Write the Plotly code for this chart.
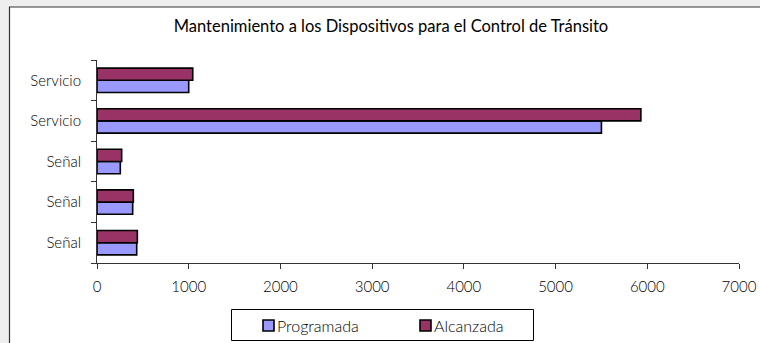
import plotly.graph_objects as go

# Categories listed from bottom to top (labels repeat, so positions are numeric)
categorias = ["Señal", "Señal", "Señal", "Servicio", "Servicio"]
posiciones = [0, 1, 2, 3, 4]
programada = [433, 389, 254, 5500, 1000]
alcanzada = [440, 396, 269, 5930, 1044]
ticks_x = [0, 1000, 2000, 3000, 4000, 5000, 6000, 7000]

series = [("Programada", programada, "#9999FF"),
          ("Alcanzada", alcanzada, "#993366")]

FONT = "Lato"
TXT = "#000000"

fig = go.Figure()
for nombre, valores, color in series:
    fig.add_trace(go.Bar(
        y=posiciones, x=valores, orientation="h", name=nombre,
        marker=dict(color=color, line=dict(color="#000000", width=1.6)),
        showlegend=False,
    ))

# plot area: x 97..739 px, y 60..263 px
L, R, T, B = 97, 21, 60, 80
W, H = 760 - L - R, 343 - T - B


def px_x(p):
    return (p - L) / W


def px_y(p):
    return (343 - B - p) / H


# white card behind the chart
fig.add_shape(type="rect", xref="paper", yref="paper",
              x0=px_x(9.5), x1=px_x(775), y0=px_y(360), y1=px_y(7),
              fillcolor="white", line=dict(color="#333333", width=1.2),
              layer="below")

# legend box with a swatch and label per series
fig.add_shape(type="rect", xref="paper", yref="paper",
              x0=px_x(231.5), x1=px_x(533.5), y0=px_y(340.5), y1=px_y(309.5),
              fillcolor="white", line=dict(color="#000000", width=1))
for (nombre, _, color), sx in zip(series, [263, 420]):
    fig.add_shape(type="rect", xref="paper", yref="paper",
                  x0=px_x(sx), x1=px_x(sx + 11), y0=px_y(331), y1=px_y(320),
                  fillcolor=color, line=dict(color="#000000", width=1.6))
    fig.add_annotation(text=nombre, xref="paper", yref="paper",
                       x=px_x(sx + 12), y=px_y(325.5),
                       xanchor="left", yanchor="middle", showarrow=False,
                       font=dict(family=FONT, size=16, color=TXT, weight=300))

fig.update_layout(
    width=760, height=343,
    margin=dict(l=L, r=R, t=T, b=B, autoexpand=False),
    paper_bgcolor="#eeeeee",
    plot_bgcolor="rgba(0,0,0,0)",
    barmode="group", bargap=0.4, bargroupgap=0,
    font=dict(family=FONT, size=15, color=TXT, weight=300),
    title=dict(text="Mantenimiento a los Dispositivos para el Control de Tránsito",
               x=391 / 760, xanchor="center", xref="container",
               y=1 - 26 / 343, yanchor="middle", yref="container",
               font=dict(family=FONT, size=16.5, color="#000000", weight=400)),
    showlegend=False,
    xaxis=dict(range=[0, 7000], tickvals=ticks_x,
               ticktext=[str(v) for v in ticks_x],
               tickfont=dict(family=FONT, size=15, color=TXT, weight=300),
               showgrid=False, zeroline=False, automargin=False,
               showline=True, linecolor="#333333", linewidth=1,
               ticks="outside", ticklen=5, tickcolor="#333333",
               ticklabelstandoff=5, fixedrange=True),
    yaxis=dict(range=[-0.5, 4.5], tickvals=posiciones, ticktext=categorias,
               tickfont=dict(family=FONT, size=15, color=TXT, weight=300),
               showgrid=False, zeroline=False, automargin=False,
               showline=True, linecolor="#333333", linewidth=1,
               ticks="", ticklabelstandoff=12,
               minor=dict(tickvals=[-0.5, 0.5, 1.5, 2.5, 3.5, 4.5],
                          ticks="outside", ticklen=5, tickcolor="#333333",
                          showgrid=False),
               fixedrange=True),
)

fig.write_html("out.html")
